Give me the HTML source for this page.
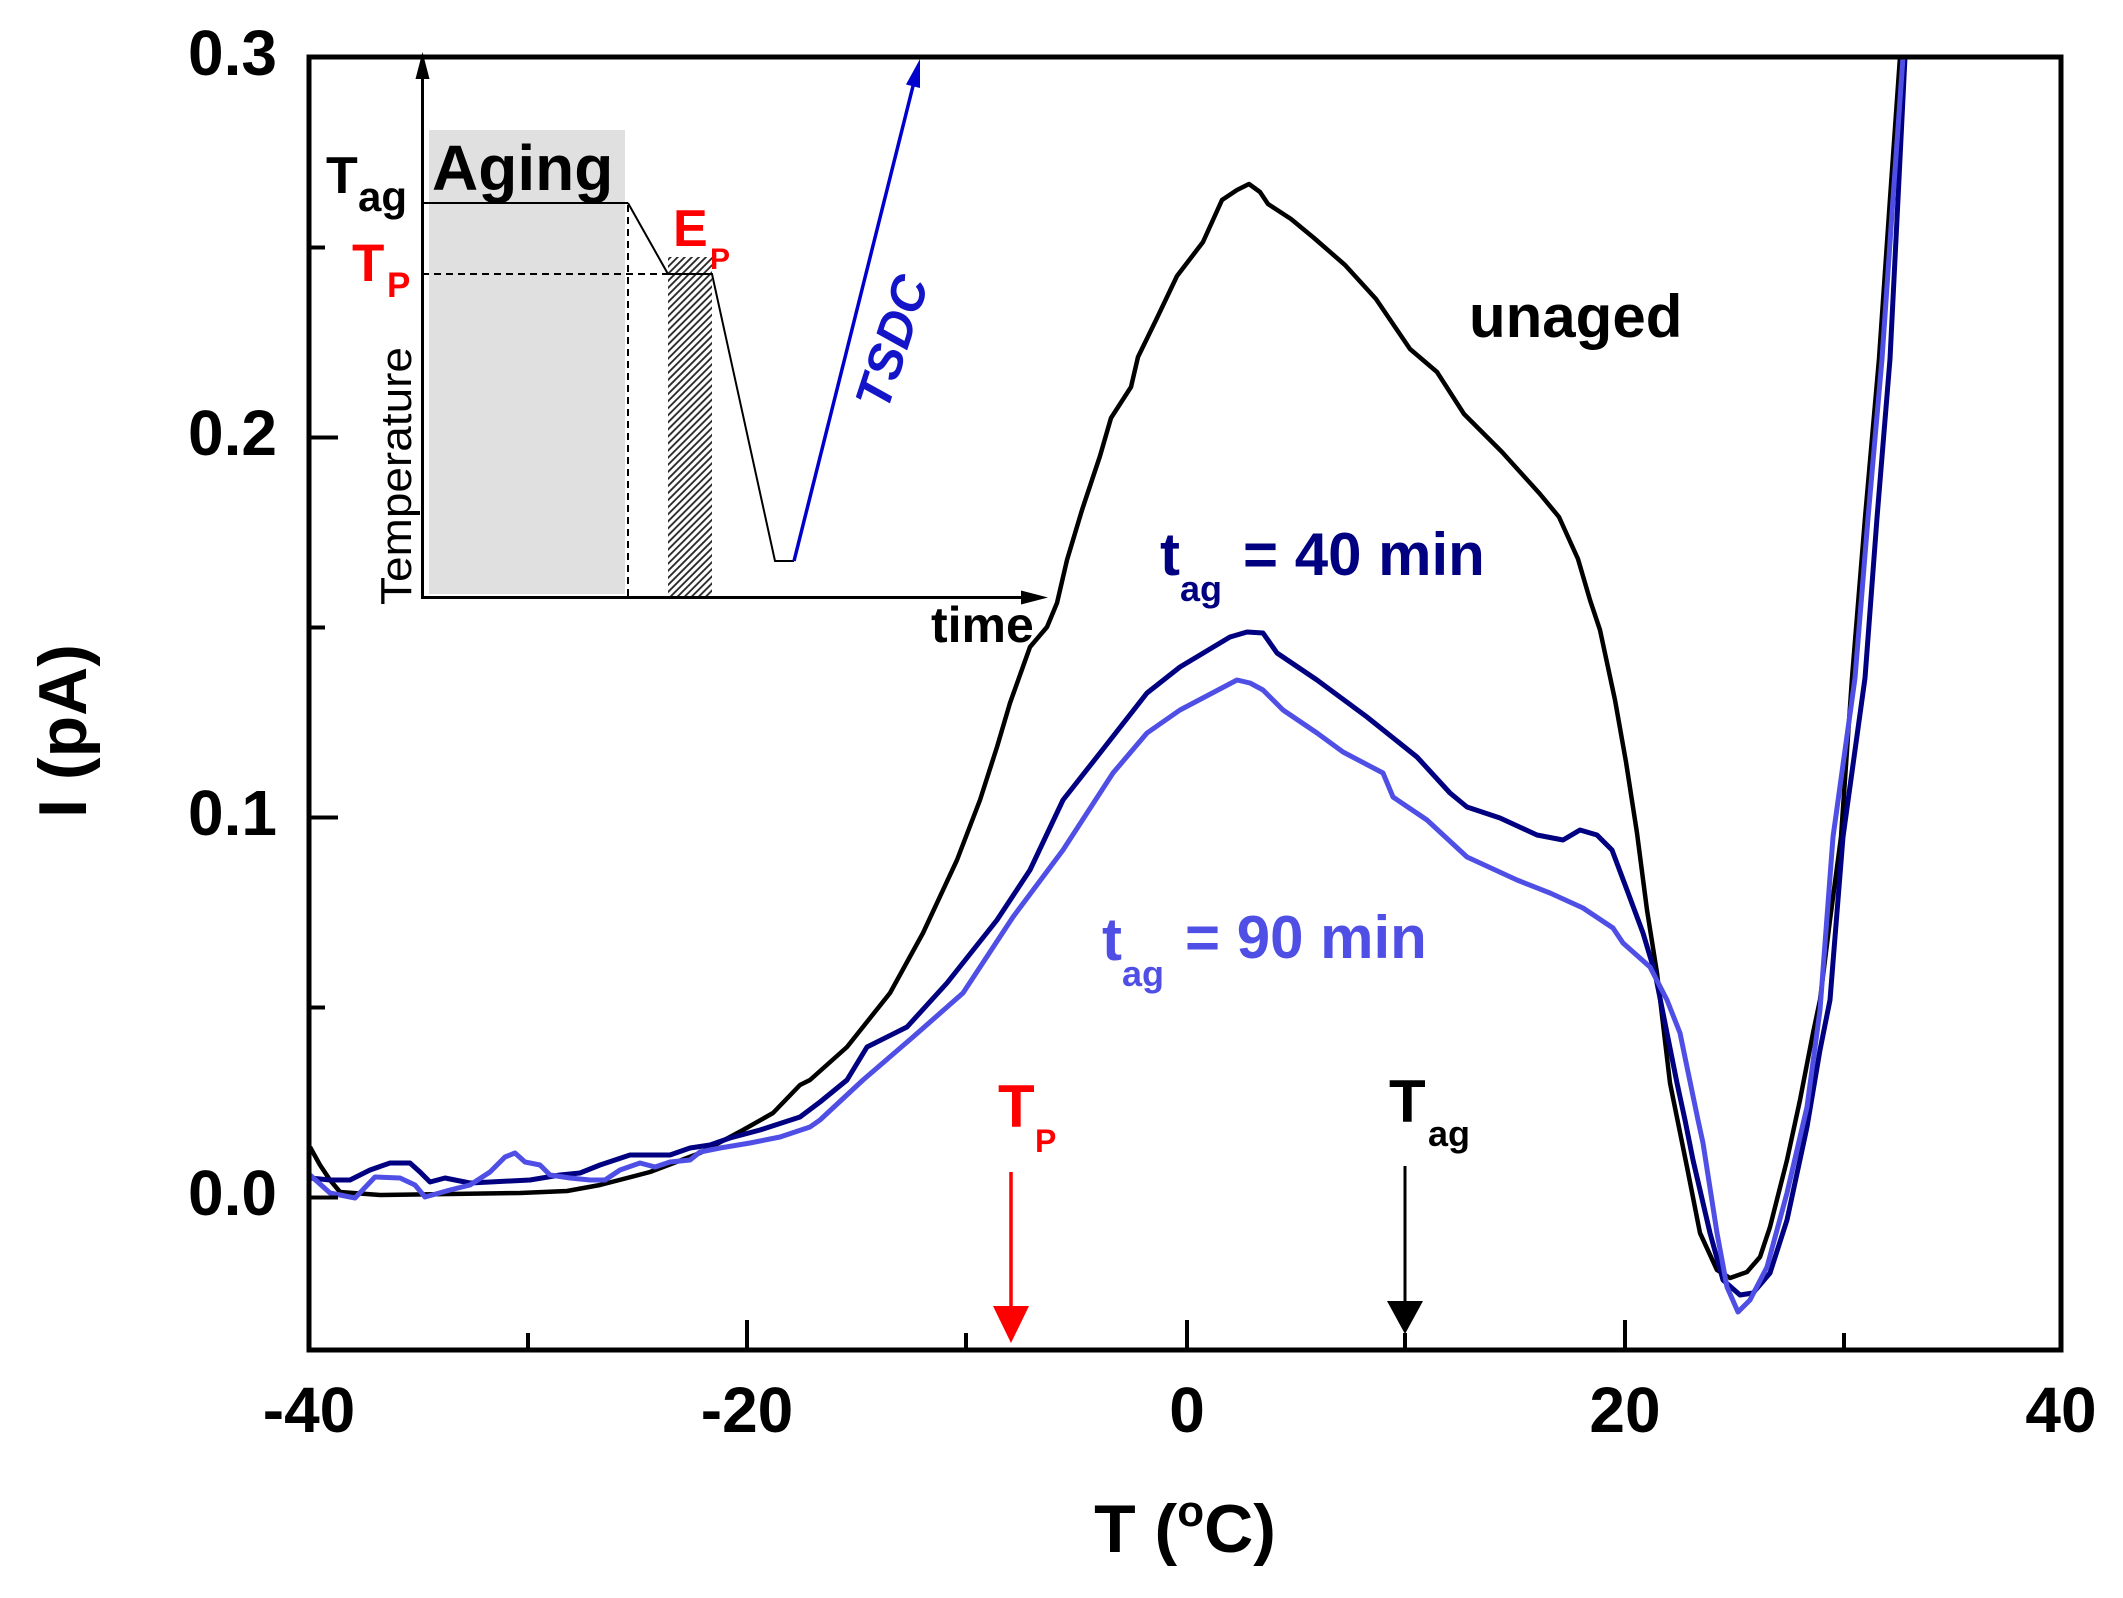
<!DOCTYPE html>
<html><head><meta charset="utf-8"><style>html,body{margin:0;padding:0;background:#fff}svg{display:block}</style></head>
<body>
<svg width="2123" height="1598" viewBox="0 0 2123 1598" xmlns="http://www.w3.org/2000/svg" font-family="'Liberation Sans', Arial, sans-serif">
<defs>
<pattern id="h" width="5" height="5" patternUnits="userSpaceOnUse" patternTransform="rotate(45)">
<line x1="1" y1="0" x2="1" y2="5" stroke="#222" stroke-width="1.8"/>
</pattern>
</defs>
<rect width="2123" height="1598" fill="#fff"/>

<!-- Inset schematic -->
<rect x="429" y="130" width="196" height="464" fill="#e0e0e0"/>
<rect x="668" y="257" width="44" height="340" fill="url(#h)"/>
<line x1="422" y1="203" x2="628" y2="203" stroke="#000" stroke-width="2"/>
<polyline points="628,203 668,274 712,274 775,561 794,561" fill="none" stroke="#000" stroke-width="2"/>
<line x1="422" y1="274" x2="668" y2="274" stroke="#000" stroke-width="2" stroke-dasharray="7,5"/>
<line x1="628" y1="205" x2="628" y2="597" stroke="#000" stroke-width="2" stroke-dasharray="7,5"/>
<line x1="794" y1="561" x2="913" y2="86" stroke="#0000cc" stroke-width="3.5"/>
<polygon points="920,59 920,88 906,84.5" fill="#0000cc"/>
<line x1="422.5" y1="598" x2="422.5" y2="75" stroke="#000" stroke-width="3"/>
<polygon points="422.5,52 415.5,79 429.5,79" fill="#000"/>
<line x1="421" y1="597.5" x2="1025" y2="597.5" stroke="#000" stroke-width="3"/>
<polygon points="1048,597.5 1021,590.5 1021,604.5" fill="#000"/>

<text x="432" y="190" font-size="64" font-weight="bold" fill="#000">Aging</text>
<text x="326" y="193" font-size="52" font-weight="bold" fill="#000">T</text>
<text x="358" y="211" font-size="42" font-weight="bold" fill="#000">ag</text>
<text x="352" y="281" font-size="53" font-weight="bold" fill="#ff0000">T</text>
<text x="387" y="297" font-size="35" font-weight="bold" fill="#ff0000">P</text>
<text x="673" y="246" font-size="52" font-weight="bold" fill="#ff0000">E</text>
<text x="710" y="269" font-size="30" font-weight="bold" fill="#ff0000">P</text>
<text x="931" y="642" font-size="50" font-weight="bold" fill="#000">time</text>
<text transform="translate(411,476) rotate(-90)" text-anchor="middle" font-size="44" textLength="258" lengthAdjust="spacingAndGlyphs" fill="#000">Temperature</text>
<text transform="translate(892,342) rotate(-72)" text-anchor="middle" dominant-baseline="central" font-size="50" font-weight="bold" font-style="italic" fill="#1414c8">TSDC</text>

<!-- Curves -->
<polyline fill="none" stroke="#000" stroke-width="4.5" stroke-linejoin="round" points="310,1147 320,1165 330,1180 340,1192 380,1195 450,1194 520,1193 567,1191 600,1185 650,1172 700,1153 743,1130 773,1113 800,1085 810,1080 847,1047 890,993 923,933 957,860 980,800 997,747 1010,703 1030,647 1047,627 1057,603 1067,560 1082,510 1100,456 1111,418 1131,387 1138,357 1157,318 1177,276 1203,242 1222,200 1237,190 1249,184 1260,192 1268,204 1291,219 1314,238 1345,265 1376,299 1410,349 1437,372 1464,414 1502,452 1540,494 1559,517 1578,559 1590,600 1600,630 1615,700 1626,762 1637,833 1647,910 1657,973 1670,1083 1687,1167 1700,1233 1717,1270 1730,1278 1747,1272 1760,1257 1770,1227 1787,1160 1800,1100 1813,1033 1820,1000 1830,920 1841,837 1852,678 1865,518 1879,359 1890,199 1900,57"/>
<polyline fill="none" stroke="#000080" stroke-width="5" stroke-linejoin="round" points="310,1178 330,1180 350,1180 370,1170 390,1163 410,1163 420,1172 430,1182 445,1178 470,1183 490,1182 530,1180 560,1175 580,1173 600,1165 630,1155 650,1155 670,1155 690,1148 710,1145 730,1138 760,1130 800,1117 820,1102 847,1080 867,1047 907,1027 947,983 997,920 1030,870 1063,800 1100,753 1147,693 1180,667 1230,637 1247,632 1263,633 1277,653 1317,680 1367,717 1417,757 1450,793 1467,807 1500,818 1537,835 1563,840 1580,830 1597,835 1612,850 1627,890 1643,933 1655,973 1667,1033 1677,1083 1685,1120 1693,1160 1710,1233 1723,1280 1740,1295 1753,1293 1770,1273 1787,1220 1807,1127 1820,1050 1830,1000 1843,837 1865,678 1877,518 1890,359 1898,199 1905,57"/>
<polyline fill="none" stroke="#4f4fe6" stroke-width="5" stroke-linejoin="round" points="310,1175 330,1193 355,1198 375,1177 400,1178 415,1185 425,1197 450,1190 470,1185 490,1172 505,1157 515,1153 525,1162 540,1165 550,1175 570,1178 590,1180 605,1180 620,1170 640,1163 655,1167 670,1162 690,1160 700,1152 720,1148 750,1143 780,1137 810,1127 820,1120 863,1080 913,1037 963,993 1013,917 1063,850 1113,773 1147,733 1180,710 1237,680 1250,683 1263,690 1283,710 1317,733 1343,752 1383,773 1393,797 1427,820 1467,857 1517,880 1550,893 1583,908 1613,928 1623,943 1650,967 1667,1000 1680,1033 1687,1067 1698,1120 1703,1143 1717,1233 1727,1287 1738,1312 1750,1300 1767,1267 1787,1193 1807,1107 1820,1010 1833,837 1855,678 1868,518 1882,359 1893,199 1903,57"/>

<!-- Frame -->
<rect x="309" y="57" width="1752" height="1293" fill="none" stroke="#000" stroke-width="5"/>
<g stroke="#000" stroke-width="4">
<line x1="309" y1="1197.5" x2="338" y2="1197.5"/>
<line x1="309" y1="817.5" x2="338" y2="817.5"/>
<line x1="309" y1="437.5" x2="338" y2="437.5"/>
<line x1="309" y1="1007.5" x2="325" y2="1007.5"/>
<line x1="309" y1="627.5" x2="325" y2="627.5"/>
<line x1="309" y1="247.5" x2="325" y2="247.5"/>
<line x1="747" y1="1350" x2="747" y2="1320"/>
<line x1="1187" y1="1350" x2="1187" y2="1320"/>
<line x1="1625" y1="1350" x2="1625" y2="1320"/>
<line x1="528" y1="1350" x2="528" y2="1333"/>
<line x1="966" y1="1350" x2="966" y2="1333"/>
<line x1="1405" y1="1350" x2="1405" y2="1333"/>
<line x1="1844" y1="1350" x2="1844" y2="1333"/>
</g>

<g font-size="64" font-weight="bold" fill="#000" text-anchor="end">
<text x="277" y="75">0.3</text>
<text x="277" y="455">0.2</text>
<text x="277" y="835">0.1</text>
<text x="277" y="1215">0.0</text>
</g>
<g font-size="64" font-weight="bold" fill="#000" text-anchor="middle">
<text x="309" y="1432">-40</text>
<text x="747" y="1432">-20</text>
<text x="1187" y="1432">0</text>
<text x="1625" y="1432">20</text>
<text x="2061" y="1432">40</text>
</g>

<text x="1185" y="1552" font-size="68" font-weight="bold" fill="#000" text-anchor="middle">T (<tspan font-size="44" dy="-26">o</tspan><tspan dy="26">C)</tspan></text>
<text transform="translate(86,731) rotate(-90)" font-size="68" font-weight="bold" fill="#000" text-anchor="middle">I (pA)</text>

<line x1="1011" y1="1172" x2="1011" y2="1310" stroke="#ff0000" stroke-width="3.5"/>
<polygon points="993,1306 1029,1306 1011,1343" fill="#ff0000"/>
<line x1="1405" y1="1166" x2="1405" y2="1304" stroke="#000" stroke-width="3"/>
<polygon points="1387,1301 1423,1301 1405,1334" fill="#000"/>
<text x="998" y="1127" font-size="60" font-weight="bold" fill="#ff0000">T</text>
<text x="1035" y="1152" font-size="32" font-weight="bold" fill="#ff0000">P</text>
<text x="1389" y="1122" font-size="60" font-weight="bold" fill="#000">T</text>
<text x="1428" y="1146" font-size="36" font-weight="bold" fill="#000">ag</text>

<text x="1469" y="337" font-size="60" font-weight="bold" fill="#000">unaged</text>
<text x="1160" y="575" font-size="60" font-weight="bold" fill="#000080">t</text>
<text x="1180" y="601" font-size="36" font-weight="bold" fill="#000080">ag</text>
<text x="1243" y="575" font-size="60" font-weight="bold" fill="#000080">= 40 min</text>
<text x="1102" y="960" font-size="60" font-weight="bold" fill="#4f4fe6">t</text>
<text x="1122" y="986" font-size="36" font-weight="bold" fill="#4f4fe6">ag</text>
<text x="1185" y="958" font-size="60" font-weight="bold" fill="#4f4fe6">= 90 min</text>
</svg>
</body></html>
